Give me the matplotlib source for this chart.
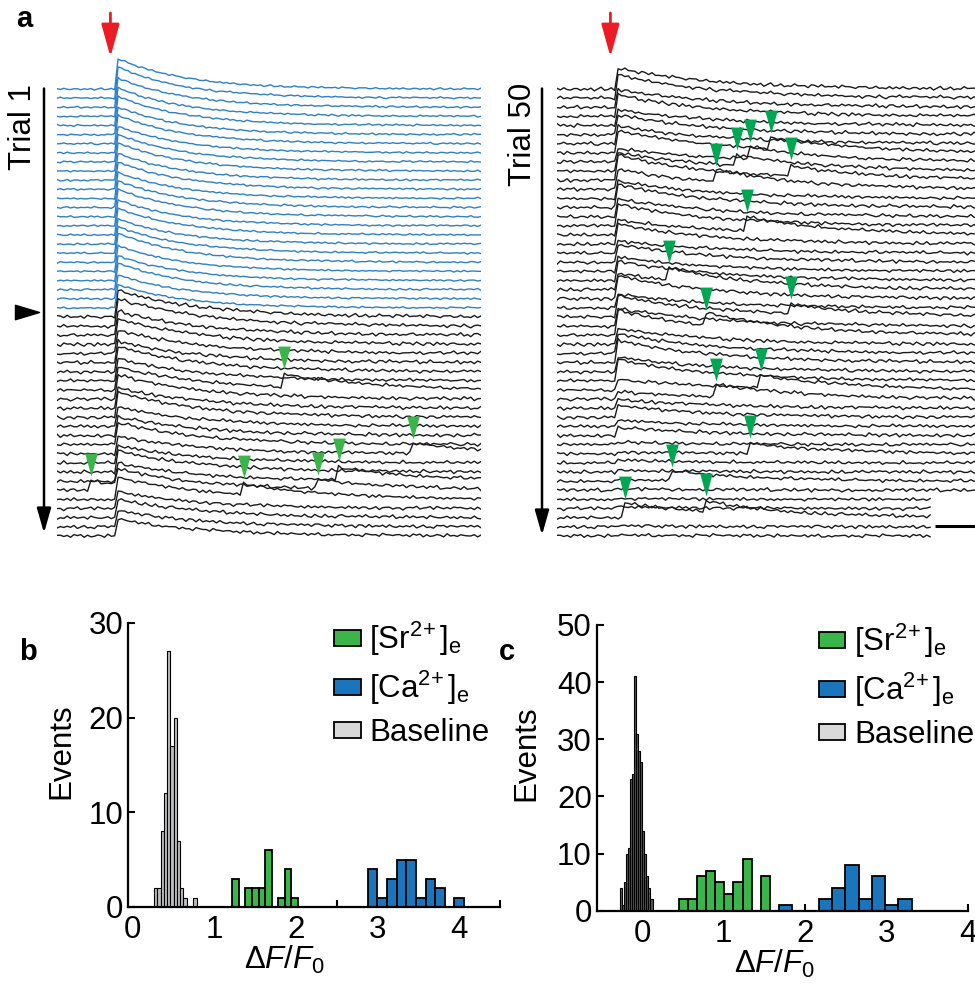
import matplotlib
matplotlib.use("Agg")
import matplotlib.pyplot as plt
import numpy as np
from matplotlib.patches import Patch
from matplotlib.path import Path

plt.rcParams["font.family"] = ["Liberation Sans", "DejaVu Sans"]
plt.rcParams["mathtext.fontset"] = "custom"
plt.rcParams["mathtext.rm"] = "Liberation Sans"
plt.rcParams["mathtext.it"] = "Liberation Sans:italic"
plt.rcParams["mathtext.bf"] = "Liberation Sans:bold"
plt.rcParams["mathtext.default"] = "regular"

# ---------------------------------------------------------------- data
# panel a: per-trial peak amplitude (in units of trace spacing)
LEFT_AMP = [3.4, 3.5, 3.3, 3.2, 3.3, 3.1, 3.2, 3.0, 3.1, 3.2, 3.0, 3.1, 2.9,
            3.0, 3.1, 2.9, 3.0, 2.8, 3.0, 3.3, 2.9, 2.8, 3.0, 2.7, 2.6,
            3.0, 3.1, 2.7, 2.9, 2.6, 2.4, 2.8, 2.5, 2.6, 2.7, 2.3, 2.8, 2.2,
            2.1, 2.5, 2.0, 1.9, 2.4, 2.0, 1.7, 2.5, 1.9, 2.1, 1.8, 1.9]
N_CA = 25          # first 25 trials recorded in Ca2+ (blue)
RIGHT_AMP = [2.3, 2.6, 2.0, 2.4, 1.8, 2.2, 2.0, 2.5, 1.5, 2.1, 2.8, 2.3, 1.9,
             2.6, 2.0, 2.4, 1.7, 2.2, 1.4, 2.0, 1.6, 2.2, 1.8, 2.6, 1.5,
             2.4, 2.0, 2.8, 1.8, 2.2, 2.5, 1.6, 2.4, 1.2, 0.8, 1.0, 1.3, 0.7,
             0.9, 0.3, 0.2, 0.3, 0.2, 0.1, 0.2, 0.1, 0.2, 0.0, 0.1, 0.1]
# asynchronous events (green arrowheads): (trial index, onset s, amplitude)
LEFT_EVENTS = [(33, 2.68, 1.4), (44, 0.38, 1.0), (45, 2.17, 1.2),
               (44, 3.05, 1.0), (43, 3.30, 1.4), (40, 4.18, 1.1)]
RIGHT_EVENTS = [(7, 2.50, 1.2), (8, 2.28, 1.2), (9, 2.10, 1.2), (10, 2.75, 1.1),
                (11, 1.85, 1.4), (16, 2.22, 1.6), (22, 1.31, 1.4), (25, 2.76, 1.0),
                (27, 1.76, 1.4), (34, 1.86, 1.4), (33, 2.39, 1.4), (40, 2.28, 1.1),
                (43, 1.34, 1.1), (47, 0.79, 1.7), (47, 1.73, 1.2)]
# hand-typed noise texture for the traces
NOISE = [0.3, -0.5, 0.8, -0.2, -0.9, 0.4, 0.1, -0.6, 0.9, -0.3, 0.5, -0.8, 0.2,
         0.7, -0.4, -0.1, 0.6, -0.7, 0.3, -0.2, 0.9, -0.5, -0.3, 0.4, -0.9, 0.6,
         0.1, -0.4, 0.8, -0.6, 0.2, -0.1, 0.5, -0.8, 0.7, 0.0, -0.3, 0.4, -0.6,
         0.9, -0.2, 0.3, -0.7, 0.1, 0.6, -0.5, 0.2, -0.9, 0.4, -0.1]

# panels b/c: histograms (bin start, bin width, counts)
B_BASE = (0.26, 0.04, [2, 2, 8, 12, 27, 17, 20, 7, 2, 1, 0, 0, 1])
B_SR = (1.22, 0.08, [3, 0, 2, 2, 2, 6, 0, 1, 4, 1])
B_CA = (2.88, 0.118, [4, 1, 3, 5, 5, 1, 3, 2, 0, 1])
C_BASE = (-0.27, 0.025, [4, 1, 5, 10, 11, 23, 24, 41, 31, 28, 26, 14, 10, 6, 4, 2])
C_SR = (0.45, 0.112, [2, 2, 6, 7, 5, 3, 5, 9, 0, 6])
C_CA = (1.68, 0.163, [1, 0, 0, 2, 4, 8, 2, 6, 1, 2])
LEGEND_LABELS = ["[Sr$^{2\\!+}$]$_{e}$", "[Ca$^{2\\!+}$]$_{e}$", "Baseline"]

# ---------------------------------------------------------------- styles
W, H = 975, 984
BLUE_TR = "#2F80C6"
GREEN = "#39B54A"
GREEN_R = "#00A651"
BLUE = "#1B75BC"
RED = "#ED1C24"
FS = 22.5

DT = 0.04
T = np.arange(0, 5.0 + DT / 2, DT)
STIM_T = 0.70
EVENT_TAU = 1.0
SPACING_PX = 9.12
PX_PER_S = 84.8

TRI_DOWN = Path([(-0.275, 1.0), (0.275, 1.0), (0.0, 0.0), (-0.275, 1.0)],
                [Path.MOVETO, Path.LINETO, Path.LINETO, Path.CLOSEPOLY])
TRI_RIGHT = Path([(-0.5, -0.3), (-0.5, 0.3), (0.5, 0.0), (-0.5, -0.3)],
                 [Path.MOVETO, Path.LINETO, Path.LINETO, Path.CLOSEPOLY])


def fig_rect(x0, y0, x1, y1):
    """pixel box (top-left origin) -> figure fraction rect"""
    return [x0 / W, 1 - y1 / H, (x1 - x0) / W, (y1 - y0) / H]


def build_trace(i, amp, tau, events, noise_scale):
    y = np.zeros_like(T)
    on = T >= STIM_T
    y[on] += amp * np.exp(-(T[on] - STIM_T) / tau)
    for k, te, a in events:
        if k == i:
            m = T >= te
            y[m] += a * np.exp(-(T[m] - te) / EVENT_TAU)
    idx = np.arange(T.size)
    n1 = np.take(NOISE, (idx + 7 * i) % len(NOISE))
    n2 = np.take(NOISE, (3 * idx + 13 * i) % len(NOISE))
    y += noise_scale * (0.6 * n1 + 0.4 * n2)
    return y - i


def trace_panel(ax, amps, events, colors, taus, noise, tri_color, n_short=0):
    n = len(amps)
    traces = [build_trace(i, amps[i], taus[i], events, noise[i]) for i in range(n)]
    for i in range(n - 1, -1, -1):
        m = T <= (4.42 if i >= n - n_short else 5.0)
        ax.plot(T[m], traces[i][m], color=colors[i], lw=1.0, solid_joinstyle="round")
    for k, te, a in events:
        j = np.searchsorted(T, te)
        ax.plot(T[j], traces[k][j] + 0.45, marker=TRI_DOWN, ms=33, color=tri_color,
                mec="none", zorder=5, clip_on=False)
    # layout: top trace baseline at 89 px, one trial per 9.12 px
    ax.set_xlim(0, 424 / PX_PER_S)
    ax.set_ylim(-(545 - 89) / SPACING_PX, (89 - 40) / SPACING_PX)
    ax.axis("off")
    # stimulus arrow
    ax.annotate("", xy=(STIM_T - 0.07, (89 - 57) / SPACING_PX),
                xytext=(STIM_T - 0.07, (89 - 13) / SPACING_PX),
                arrowprops=dict(arrowstyle="-|>,head_length=2.0,head_width=0.55",
                                color=RED, lw=2, shrinkA=0, shrinkB=0,
                                mutation_scale=10),
                annotation_clip=False)


fig = plt.figure(figsize=(W / 100, H / 100), dpi=100)

# ---------------------------------------------------------------- panel a
axL = fig.add_axes(fig_rect(57, 40, 481, 545))
trace_panel(axL, LEFT_AMP, LEFT_EVENTS,
            [BLUE_TR] * N_CA + ["#1a1a1a"] * (len(LEFT_AMP) - N_CA),
            [0.8] * N_CA + [1.0] * (len(LEFT_AMP) - N_CA),
            [0.14] * N_CA + [0.26] * (len(LEFT_AMP) - N_CA), GREEN)
xa = (44 - 57) / PX_PER_S
axL.annotate("", xy=(xa, -(533 - 89) / SPACING_PX), xytext=(xa, 0.05),
             arrowprops=dict(arrowstyle="-|>,head_length=1.5,head_width=0.43",
                             color="black", lw=1.8, shrinkA=0, shrinkB=0,
                             mutation_scale=10),
             annotation_clip=False)
axL.plot((27 - 57) / PX_PER_S, -(N_CA - 0.55), marker=TRI_RIGHT, ms=17.3,
         color="black", clip_on=False)

axR = fig.add_axes(fig_rect(557, 40, 981, 545))
trace_panel(axR, RIGHT_AMP, RIGHT_EVENTS, ["#1a1a1a"] * len(RIGHT_AMP),
            [1.15] * len(RIGHT_AMP), [0.26] * len(RIGHT_AMP), GREEN_R, n_short=5)
xb = (542 - 557) / PX_PER_S
axR.annotate("", xy=(xb, -(535 - 89) / SPACING_PX), xytext=(xb, 0.05),
             arrowprops=dict(arrowstyle="-|>,head_length=1.5,head_width=0.43",
                             color="black", lw=1.8, shrinkA=0, shrinkB=0,
                             mutation_scale=10),
             annotation_clip=False)
axR.plot([4.46, 4.96], [-47.9, -47.9], color="black", lw=2.2, clip_on=False,
         solid_capstyle="butt")

fig.text(23 / W, 1 - 127 / H, "Trial 1", rotation=90, ha="center", va="center",
         fontsize=FS)
fig.text(523 / W, 1 - 134 / H, "Trial 50", rotation=90, ha="center", va="center",
         fontsize=FS)
fig.text(16 / W, 1 - 27 / H, "a", fontsize=21, fontweight="bold", va="baseline")
fig.text(19 / W, 1 - 660 / H, "b", fontsize=21, fontweight="bold", va="baseline")
fig.text(499 / W, 1 - 660 / H, "c", fontsize=21, fontweight="bold", va="baseline")


# ---------------------------------------------------------------- panels b, c
def hist_bars(ax, spec, fc, lw):
    start, width, counts = spec
    counts = np.asarray(counts)
    left = start + width * np.arange(counts.size)
    keep = counts > 0
    ax.bar(left[keep], counts[keep], width=width, align="edge", color=fc,
           edgecolor="black", linewidth=lw, zorder=2)


def hist_panel(ax, base, sr, ca, base_fc, xlim, ylim, yticks, leg_x,
               xlab_x, ylab_x):
    hist_bars(ax, base, base_fc, 0.8)
    hist_bars(ax, sr, GREEN, 1.3)
    hist_bars(ax, ca, BLUE, 1.3)
    ax.set_xlim(*xlim)
    ax.set_ylim(*ylim)
    ax.set_yticks(yticks)
    ax.set_xticks([0, 1, 2, 3, 4])
    ax.set_axisbelow(True)
    for s in ("top", "right"):
        ax.spines[s].set_visible(False)
    for s in ("left", "bottom"):
        ax.spines[s].set_linewidth(1.6)
        ax.spines[s].set_zorder(3)
    ax.tick_params(direction="in", length=5, width=1.5, labelsize=FS)
    ax.tick_params(axis="y", pad=3.5)
    ax.tick_params(axis="x", pad=6)
    ax.set_xlabel("Δ$\\it{F}$/$\\it{F}_{0}$", fontsize=FS, va="top")
    ax.set_ylabel("Events", fontsize=FS)
    ax.xaxis.set_label_coords(xlab_x, -0.13)
    ax.yaxis.set_label_coords(ylab_x, 0.55)
    handles = [Patch(fc=GREEN, ec="black", lw=1.3),
               Patch(fc=BLUE, ec="black", lw=1.3),
               Patch(fc="#D9D9D9", ec="black", lw=1.3)]
    ax.legend(handles, LEGEND_LABELS, loc="upper left", bbox_to_anchor=(leg_x, 1.01),
              frameon=False, fontsize=FS, handlelength=0.85, handleheight=0.4,
              handletextpad=0.28, labelspacing=0.34, borderpad=0, borderaxespad=0)


axb = fig.add_axes(fig_rect(128, 623, 500, 907))
hist_panel(axb, B_BASE, B_SR, B_CA, "#BCBEC0", (-0.06, 4.5), (0, 30),
           [0, 10, 20, 30], 0.554, 0.42, -0.14)
axb.tick_params(axis="x", which="major", length=0)
axb.set_xticks([0.5, 2.5, 4.5], minor=True)
axb.tick_params(axis="x", which="minor", direction="in", length=5, width=1.5)

axc = fig.add_axes(fig_rect(596.7, 625, 968, 910.7))
hist_panel(axc, C_BASE, C_SR, C_CA, "#58595B", (-0.555, 4.0), (0, 50),
           [0, 10, 20, 30, 40, 50], 0.598, 0.48, -0.15)

fig.savefig("out.png", dpi=100)
